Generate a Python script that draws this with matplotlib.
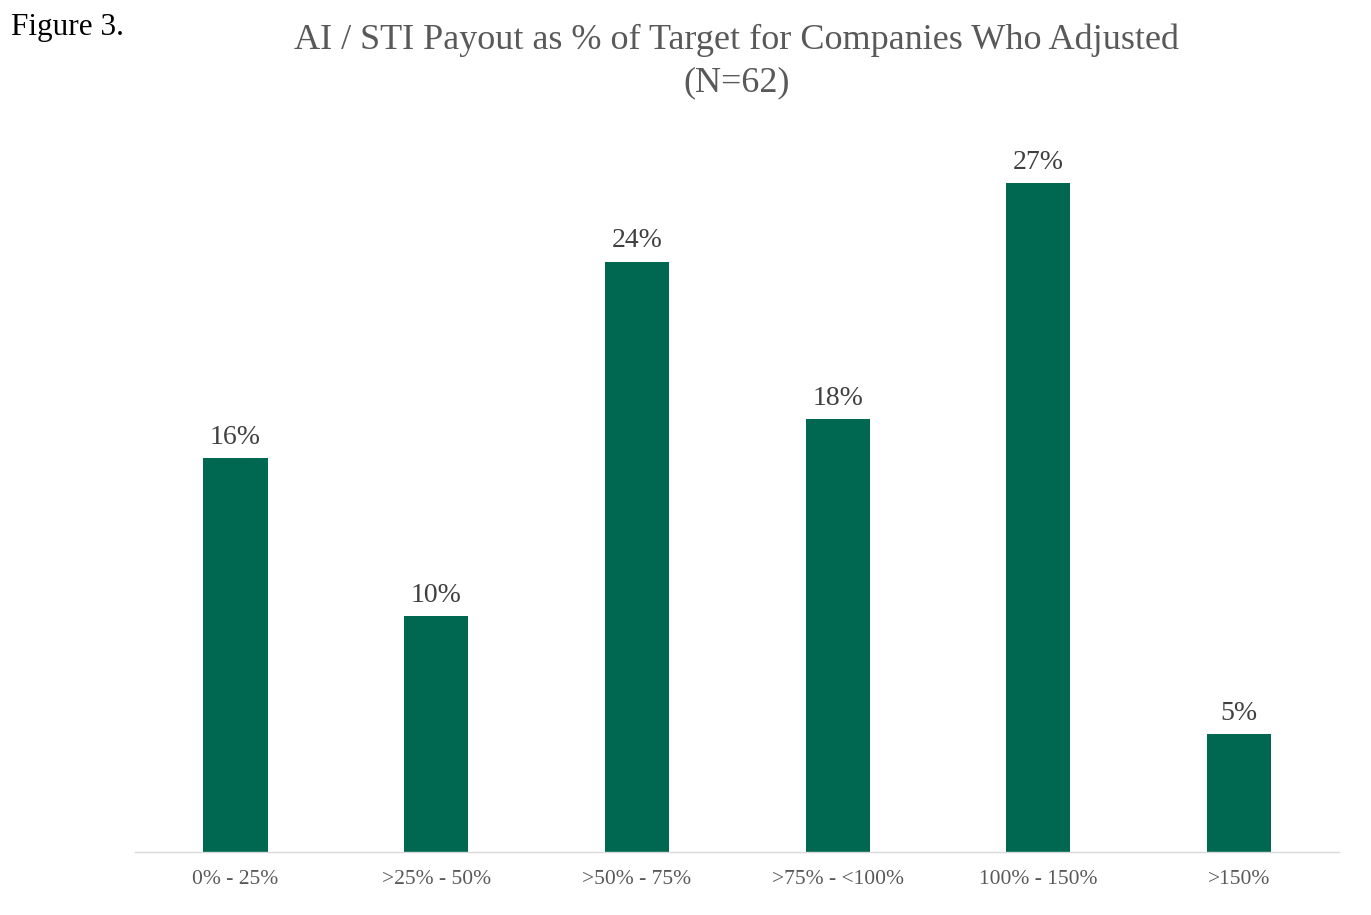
import matplotlib
matplotlib.use('Agg')
import matplotlib.pyplot as plt

# Data: companies per payout bucket, out of N=62
categories = ['0% - 25%', '>25% - 50%', '>50% - 75%', '>75% - <100%', '100% - 150%', '>150%']
counts = [10, 6, 15, 11, 17, 3]
n_total = 62
pct = [c / n_total * 100 for c in counts]

plt.rcParams['font.family'] = ['Liberation Serif', 'DejaVu Serif']

fig = plt.figure(figsize=(13.71, 9.15), dpi=100)
ax = fig.add_axes([0.0985, 0.069, 0.8785, 0.80])

x = range(len(categories))
bars = ax.bar(x, pct, width=0.32, color='#006850')

for xi, p in zip(x, pct):
    ax.text(xi, p + 0.33, f'{p:.0f}%', ha='center', va='bottom',
            fontsize=20, color='#404040')

ax.set_xlim(-0.5, len(categories) - 0.5)
ax.set_ylim(0, 30)
ax.set_xticks(list(x))
ax.set_xticklabels(categories, fontsize=15.5, color='#595959')
ax.tick_params(axis='x', length=0, pad=13)
ax.set_yticks([])
for s in ['top', 'right', 'left']:
    ax.spines[s].set_visible(False)
ax.spines['bottom'].set_color('#d9d9d9')
ax.spines['bottom'].set_linewidth(1)

fig.text(0.537, 0.9563, 'AI / STI Payout as % of Target for Companies Who Adjusted',
         ha='center', va='center', fontsize=26, color='#595959')
fig.text(0.537, 0.9093, '(N=62)',
         ha='center', va='center', fontsize=26, color='#595959')
fig.text(0.008, 0.970, 'Figure 3.', ha='left', va='center', fontsize=22.5, color='black')

fig.savefig('out.png', dpi=100)
